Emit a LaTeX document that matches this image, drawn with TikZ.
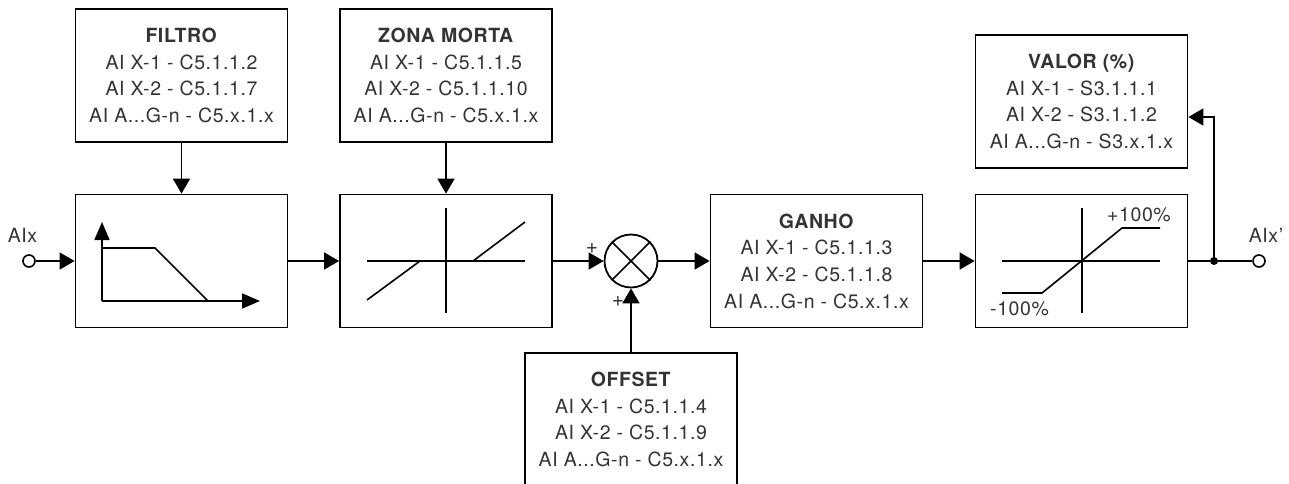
\documentclass[tikz,border=0pt]{standalone}
\usepackage{fontspec}
\setmainfont{TeX Gyre Heros}[LetterSpace=3]
\usetikzlibrary{arrows.meta}
\tikzset{
  blk/.style={draw, line width=1.8pt, minimum width=212pt, minimum height=133pt, inner sep=0pt,
    align=center, text=black!80, font=\fontsize{19.5}{26.7}\selectfont},
  conn/.style={line width=1.8pt, -{Triangle[length=15pt,width=17pt]}},
  axis/.style={line width=1.8pt, -{Triangle[length=18pt,width=15pt]}},
  plot/.style={line width=1.6pt},
  lbl/.style={text=black!80, font=\fontsize{19.5}{22}\selectfont, inner sep=0pt},
  plus/.style={text=black!80, font=\fontsize{21}{21}\selectfont, inner sep=0pt},
  term/.style={circle, draw, line width=1.6pt, fill=white, minimum size=12pt, inner sep=0pt},
}
\begin{document}
\begin{tikzpicture}[x=1pt,y=-1pt]
\useasboundingbox (0,0) rectangle (1289,484);
\clip (0,0) rectangle (1289,484);
% parameter boxes
\node[blk] (filtro) at (181.5,75.5) {\textbf{FILTRO}\\AI X-1 - C5.1.1.2\\AI X-2 - C5.1.1.7\\AI A...G-n - C5.x.1.x};
\node[blk] (zona) at (446,75.5) {\textbf{ZONA MORTA}\\AI X-1 - C5.1.1.5\\AI X-2 - C5.1.1.10\\AI A...G-n - C5.x.1.x};
\node[blk] (valor) at (1081.5,101.5) {\textbf{VALOR (\%)}\\AI X-1 - S3.1.1.1\\AI X-2 - S3.1.1.2\\AI A...G-n - S3.x.1.x};
\node[blk] (offset) at (631,419.5) {\textbf{OFFSET}\\AI X-1 - C5.1.1.4\\AI X-2 - C5.1.1.9\\AI A...G-n - C5.x.1.x};
% main chain
\node[blk] (filt) at (181.5,261) {};
\node[blk] (dz) at (446,261) {};
\node[circle, draw, line width=1.8pt, minimum size=53pt, inner sep=0pt] (sum) at (631,261) {};
\node[blk] (ganho) at (816.5,261) {\textbf{GANHO}\\AI X-1 - C5.1.1.3\\AI X-2 - C5.1.1.8\\AI A...G-n - C5.x.1.x};
\node[blk] (sat) at (1081.5,261) {};
% terminals
\node[term] (in) at (29,261) {};
\node[lbl, anchor=base] (inlbl) at (22.5,242) {AIx};
\node[term] (out) at (1259,261) {};
\node[lbl, anchor=base] (outlbl) at (1266,242) {AIx'};
\node[circle, fill, minimum size=8pt, inner sep=0pt] (dot) at (1214,261) {};
% sum cross
\draw[line width=1.6pt] (sum.north west) -- (sum.south east);
\draw[line width=1.6pt] (sum.north east) -- (sum.south west);
\node[plus] (p1) at (592,249) {+};
\node[plus] (p2) at (618,302) {+};
% connectors
\draw[conn] (in) -- (filt.west);
\draw[conn] (filtro.south) -- (filt.north);
\draw[conn] (zona.south) -- (dz.north);
\draw[conn] (filt.east) -- (dz.west);
\draw[conn] (dz.east) -- (sum.west);
\draw[conn] (offset.north) -- (sum.south);
\draw[conn] (sum.east) -- (ganho.west);
\draw[conn] (ganho.east) -- (sat.west);
\draw[line width=1.8pt] (sat.east) -- (dot) -- (out);
\draw[conn] (dot.center) |- ([yshift=-15.5pt]valor.east);
% filter graph
\draw[axis] (102,301) -- (102,222);
\draw[axis] (102,301) -- (260,301);
\draw[plot] (102,248) -- (155,248) -- (208,301);
% dead zone graph
\draw[plot] (367,261) -- (525,261);
\draw[plot] (446,208) -- (446,313);
\draw[plot] (367,300) -- (420,261);
\draw[plot] (473,261) -- (525,222);
% saturation graph
\draw[plot] (1002,261) -- (1160,261);
\draw[plot] (1082,208) -- (1082,313);
\draw[plot] (1002,293) -- (1042,293) -- (1122,228) -- (1160,228);
\node[lbl, anchor=base west] (pl) at (1107,221) {+100\%};
\node[lbl, anchor=base west] (mi) at (990,315) {-100\%};
\end{tikzpicture}
\end{document}
